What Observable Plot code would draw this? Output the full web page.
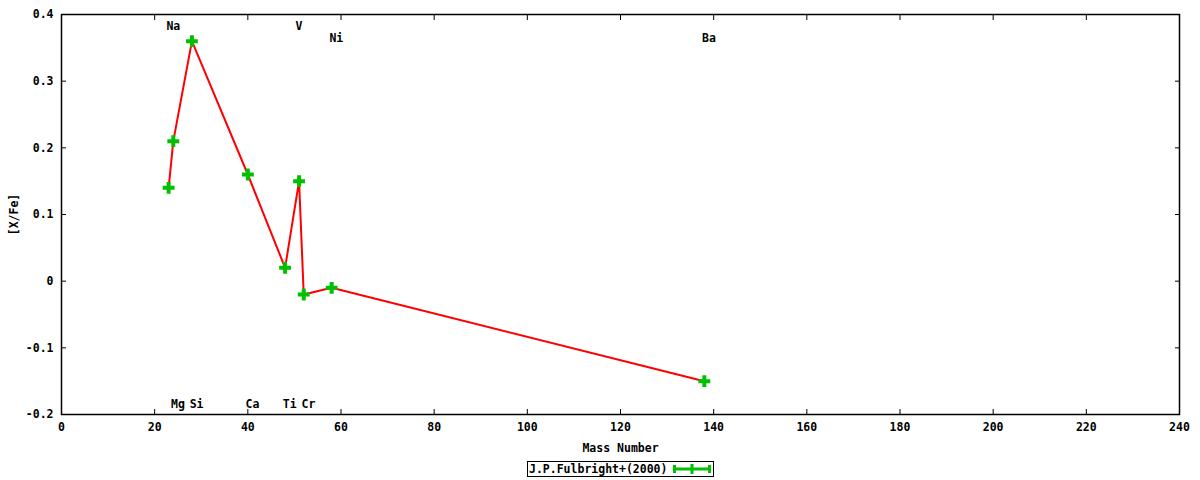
<!DOCTYPE html>
<html>
<head>
<meta charset="utf-8">
<script src="https://cdn.jsdelivr.net/npm/d3@7"></script>
<script src="https://cdn.jsdelivr.net/npm/@observablehq/plot@0.6"></script>
<style>
  body { margin: 0; background: #fff; font-family: "DejaVu Sans Mono", monospace; }
  #chart svg { display: block; }
  #legend { height: 22px; position: relative; }
  #legend .box {
    position: absolute; left: 527px; top: 3px; width: 184px; height: 14px;
    border: 1px solid #000; display: flex; align-items: center;
    font: bold 11.5px "DejaVu Sans Mono", monospace; color: #000; padding-left: 1px;
  }
  #legend svg { margin-left: 6px; }
</style>
</head>
<body>
<div id="chart"></div>
<div id="legend"><div class="box"><span id="legtext"></span>
<svg width="38" height="10"><line x1="1" y1="5" x2="37" y2="5" stroke="#00c000" stroke-width="3"/><line x1="1.5" y1="1" x2="1.5" y2="9" stroke="#00c000" stroke-width="3"/><line x1="36.5" y1="1" x2="36.5" y2="9" stroke="#00c000" stroke-width="3"/><line x1="19" y1="0" x2="19" y2="10" stroke="#00c000" stroke-width="3"/></svg>
</div></div>
<script>
const elements = ["Na", "Mg", "Si", "Ca", "Ti", "V", "Cr", "Ni", "Ba"];
const massNumber = [23, 24, 28, 40, 48, 51, 52, 58, 138];
const xFe = [0.14, 0.21, 0.36, 0.16, 0.02, 0.15, -0.02, -0.01, -0.15];
const labelMass = [24, 25, 29, 41, 49, 51, 53, 59, 139];
const xTicks = [0, 20, 40, 60, 80, 100, 120, 140, 160, 180, 200, 220, 240];
const yTicks = [-0.2, -0.1, 0, 0.1, 0.2, 0.3, 0.4];
const topRow1 = ["Na", "V"];
const topRow2 = ["Ni", "Ba"];
const legendLabel = "J.P.Fulbright+(2000)";

const data = elements.map((e, i) => ({name: e, x: massNumber[i], y: xFe[i], lx: labelMass[i]}));
const row1 = data.filter(d => topRow1.includes(d.name));
const row2 = data.filter(d => topRow2.includes(d.name));
const bottomRow = data.filter(d => !topRow1.includes(d.name) && !topRow2.includes(d.name));

const font = {fontFamily: "DejaVu Sans Mono", fontWeight: "bold", fontSize: 11.5, fill: "#000"};

const chart = Plot.plot({
  width: 1200,
  height: 458,
  marginLeft: 61,
  marginRight: 21,
  marginTop: 14,
  marginBottom: 44,
  style: {fontFamily: "DejaVu Sans Mono", fontWeight: "bold", fontSize: "11.5px", color: "#000", background: "#fff"},
  x: {domain: [0, 240]},
  y: {domain: [-0.2, 0.4]},
  marks: [
    Plot.frame({stroke: "#000", strokeWidth: 1.5}),
    Plot.axisX({ticks: xTicks, tickSize: -5, tickPadding: 13, tickFormat: d => String(d), label: "Mass Number", labelAnchor: "center", labelArrow: "none", labelOffset: 37}),
    Plot.axisX({anchor: "top", ticks: xTicks, tickSize: -5, tickFormat: () => "", label: null}),
    Plot.axisY({ticks: yTicks, tickSize: -5, tickPadding: 13, tickFormat: d => (d === 0 ? "0" : String(d)), label: "[X/Fe]", labelAnchor: "center", labelArrow: "none", labelOffset: 52}),
    Plot.axisY({anchor: "right", ticks: yTicks, tickSize: -5, tickFormat: () => "", label: null}),
    Plot.line(data, {x: "x", y: "y", stroke: "#ff0000", strokeWidth: 2}),
    Plot.dot(data, {x: "x", y: "y", symbol: "cross", r: 5, fill: "#00c000", stroke: null}),
    Plot.text(row1, {x: "lx", text: "name", frameAnchor: "top", dy: 7, ...font}),
    Plot.text(row2, {x: "lx", text: "name", frameAnchor: "top", dy: 19, ...font}),
    Plot.text(bottomRow, {x: "lx", text: "name", frameAnchor: "bottom", dy: -7, ...font})
  ]
});
document.getElementById("chart").appendChild(chart);
document.getElementById("legtext").textContent = legendLabel;
</script>
</body>
</html>
